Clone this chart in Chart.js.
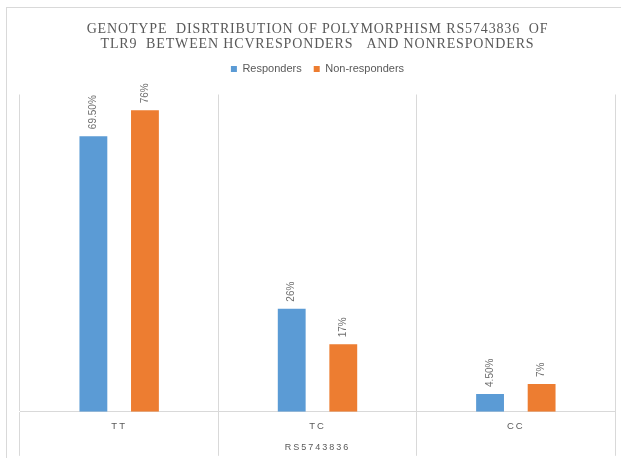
<!DOCTYPE html>
<html>
<head>
<meta charset="utf-8">
<script src="https://cdn.jsdelivr.net/npm/chart.js@4/dist/chart.umd.min.js"></script>
<style>
  html, body { margin: 0; padding: 0; background: #fff; overflow: hidden; }
  #wrap { position: relative; width: 621px; height: 458px; }
  #frame { position: absolute; left: 6px; top: 7px; width: 700px; height: 600px;
           border-left: 1px solid #d9d9d9; border-top: 1px solid #d9d9d9; }
  #c { position: absolute; left: 0; top: 0; }
</style>
</head>
<body>
<div id="wrap">
  <div id="frame"></div>
  <canvas id="c" width="621" height="458"></canvas>
</div>
<script>
// Genotype groups of the RS5743836 polymorphism
const genotypes = ['TT', 'TC', 'CC'];
// Percentage of patients in each group
const responders = [69.5, 26, 4.5];
const nonResponders = [76, 17, 7];
const seriesNames = ['Responders', 'Non-responders'];
const axisTitle = 'RS5743836';
const titleLines = [
  'GENOTYPE  DISRTRIBUTION OF POLYMORPHISM RS5743836  OF',
  'TLR9  BETWEEN HCVRESPONDERS   AND NONRESPONDERS'
];

const GREY = '#595959';
const GRID = '#d9d9d9';

function pct(v) {
  return (Number.isInteger(v) ? String(v) : v.toFixed(2)) + '%';
}

// Wrap a draw method so its text is rendered with letter spacing
function withSpacing(obj, method, px) {
  if (!obj || obj['_sp_' + method]) return;
  const orig = obj[method];
  obj[method] = function (...args) {
    const ctx = this.ctx;
    const prev = ctx.letterSpacing;
    ctx.letterSpacing = px;
    orig.apply(this, args);
    ctx.letterSpacing = prev;
  };
  obj['_sp_' + method] = true;
}

const spacingPlugin = {
  id: 'spacing',
  beforeInit(chart) {
    // extra room between legend and plot area
    const fit = chart.legend.fit;
    chart.legend.fit = function () {
      fit.call(this);
      this.height += 10;
    };
  },
  afterLayout(chart) {
    withSpacing(chart.titleBlock, 'draw', '0.85px');
    withSpacing(chart.scales.x, 'drawLabels', '2px');
    withSpacing(chart.scales.x, 'drawTitle', '2px');
  }
};

// Rotated value labels above each bar
const valueLabels = {
  id: 'valueLabels',
  afterDatasetsDraw(chart) {
    const ctx = chart.ctx;
    ctx.save();
    ctx.font = '10px "Liberation Sans", Arial, sans-serif';
    ctx.fillStyle = '#6f6f6f';
    ctx.textAlign = 'left';
    ctx.textBaseline = 'middle';
    chart.data.datasets.forEach((ds, di) => {
      const meta = chart.getDatasetMeta(di);
      meta.data.forEach((bar, i) => {
        ctx.save();
        ctx.translate(bar.x, bar.y - 7);
        ctx.rotate(-Math.PI / 2);
        ctx.fillText(pct(ds.data[i]), 0, 0);
        ctx.restore();
      });
    });
    ctx.restore();
  }
};

new Chart(document.getElementById('c'), {
  type: 'bar',
  data: {
    labels: genotypes,
    datasets: [
      { label: seriesNames[0], data: responders, backgroundColor: '#5b9bd5' },
      { label: seriesNames[1], data: nonResponders, backgroundColor: '#ed7d31' }
    ]
  },
  options: {
    responsive: false,
    animation: false,
    events: [],
    layout: { padding: { left: 20, right: 6, top: 0, bottom: 1 } },
    datasets: {
      bar: { categoryPercentage: 0.52, barPercentage: 0.54 }
    },
    scales: {
      x: {
        grid: { color: GRID, lineWidth: 1, offset: true, tickLength: 44, tickColor: GRID },
        border: { color: GRID },
        ticks: {
          color: GREY, padding: -35,
          font: { family: '"Liberation Sans", Arial, sans-serif', size: 9.5 }
        },
        title: {
          display: true, text: axisTitle, color: GREY,
          font: { family: '"Liberation Sans", Arial, sans-serif', size: 9, lineHeight: 1.2 },
          padding: { top: 45, bottom: 4 }
        }
      },
      y: { display: false, min: 0, max: 80 }
    },
    plugins: {
      title: {
        display: true,
        text: titleLines,
        color: GREY,
        font: { family: '"Liberation Serif", "Times New Roman", serif', size: 14, weight: 'normal', lineHeight: '15px' },
        padding: { top: 21.5, bottom: 0 }
      },
      legend: {
        position: 'top',
        labels: {
          color: GREY,
          boxWidth: 6, boxHeight: 6, padding: 12,
          font: { family: '"Liberation Sans", Arial, sans-serif', size: 11 }
        }
      },
      tooltip: { enabled: false }
    }
  },
  plugins: [spacingPlugin, valueLabels]
});
</script>
</body>
</html>
